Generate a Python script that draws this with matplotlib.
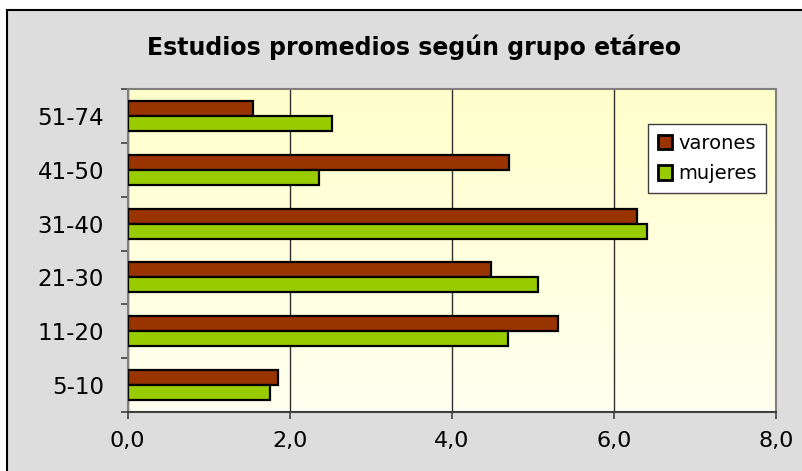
import matplotlib
matplotlib.use("Agg")
import matplotlib.pyplot as plt
import numpy as np
from matplotlib.colors import LinearSegmentedColormap
from matplotlib.patches import Rectangle

categories = ["5-10", "11-20", "21-30", "31-40", "41-50", "51-74"]
varones = [1.86, 5.31, 4.49, 6.29, 4.71, 1.55]
mujeres = [1.76, 4.69, 5.07, 6.41, 2.36, 2.52]
x_ticks = [0, 2, 4, 6, 8]
x_tick_labels = ["0,0", "2,0", "4,0", "6,0", "8,0"]
title = "Estudios promedios según grupo etáreo"

fig = plt.figure(figsize=[8.02, 4.71], dpi=100, facecolor="white")

# outer chart frame, kept behind the axes
frame = Rectangle(
    (7 / 802, -0.05), 1.1, 1 - 10 / 471 + 0.05,
    transform=fig.transFigure, facecolor="#dddddd", edgecolor="black",
    linewidth=1.5, zorder=-10,
)
fig.patches.append(frame)

ax = fig.add_axes([127.5 / 802, 59 / 471, 648.5 / 802, 323 / 471])
ax.set_facecolor("none")

# yellow gradient background
grad_cmap = LinearSegmentedColormap.from_list("bg", ["#fffff0", "#ffffcc"])
grad = np.linspace(0, 1, 256).reshape(-1, 1)
ax.imshow(grad, cmap=grad_cmap, aspect="auto", origin="lower",
          extent=[0, 1, 0, 1], transform=ax.transAxes, zorder=0)

y_vals = np.arange(len(categories))
bh = 0.28
ax.barh(y_vals + bh / 2, varones, height=bh, color="#993300",
        edgecolor="black", linewidth=1.6, label="varones", zorder=3)
ax.barh(y_vals - bh / 2, mujeres, height=bh, color="#99cc00",
        edgecolor="black", linewidth=1.6, label="mujeres", zorder=3)

ax.set_xlim(0, 8)
ax.set_ylim(-0.5, len(categories) - 0.5)
ax.set_xticks(x_ticks, x_tick_labels)
ax.set_yticks(y_vals, categories)
ax.set_yticks(np.arange(-0.5, len(categories), 1.0), minor=True)
ax.tick_params(axis="y", which="major", length=0, pad=17, labelsize=16.5)
ax.tick_params(axis="y", which="minor", length=5, width=1.2, color="#404040")
ax.tick_params(axis="x", length=5, width=1.2, color="#404040", pad=9,
               labelsize=16)

ax.grid(axis="x", color="#303030", linewidth=1.0, zorder=1)
for side in ["left", "right", "top"]:
    ax.spines[side].set_color("#808080")
    ax.spines[side].set_linewidth(1.5)
ax.spines["bottom"].set_color("#404040")
ax.spines["bottom"].set_linewidth(1.5)

leg = ax.legend(
    loc="upper left", bbox_to_anchor=(520.5 / 648.5, 1 - 35 / 323),
    fontsize=14, frameon=True, fancybox=False, framealpha=1.0,
    edgecolor="#404040", handlelength=0.75, handleheight=0.75,
    handletextpad=0.3, labelspacing=0.6, borderpad=0.5, borderaxespad=0,
)
leg.get_frame().set_linewidth(1.0)
for h in leg.legend_handles:
    h.set_linewidth(2.0)

fig.text(414 / 802, 1 - 47 / 471, title, ha="center", va="center",
         fontsize=17, fontweight="bold")

fig.savefig("out.png", dpi=100)
